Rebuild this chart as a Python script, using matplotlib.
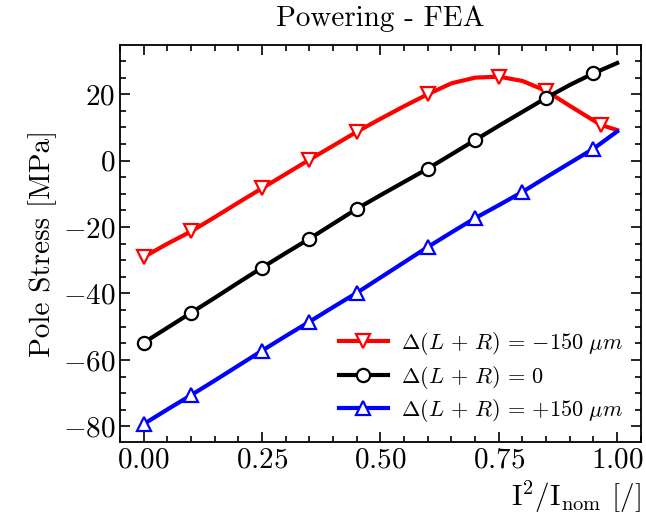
import numpy as np
import matplotlib
matplotlib.use('Agg')
import matplotlib.pyplot as plt
from matplotlib.ticker import MultipleLocator

plt.rcParams['font.family'] = 'serif'
plt.rcParams['font.serif'] = ['cmr10']
plt.rcParams['mathtext.fontset'] = 'cm'
plt.rcParams['axes.formatter.use_mathtext'] = True
plt.rcParams['axes.unicode_minus'] = True

# I^2/I_nom grid
x = [0.0, 0.05, 0.1, 0.15, 0.2, 0.25, 0.3, 0.35, 0.4, 0.45, 0.5,
     0.55, 0.6, 0.65, 0.7, 0.75, 0.8, 0.85, 0.9, 0.95, 1.0]
x_minus = [0.0, 0.05, 0.1, 0.15, 0.2, 0.25, 0.3, 0.35, 0.4, 0.45, 0.5,
           0.55, 0.6, 0.65, 0.7, 0.75, 0.8, 0.85, 0.9, 0.965, 1.0]

# pole stress [MPa]
s_minus = [-29.0, -25.0, -21.3, -17.0, -12.6, -8.3, -4.0, 0.3, 4.5, 8.7, 12.6,
           16.4, 20.0, 23.3, 25.0, 25.3, 24.0, 21.0, 16.5, 10.8, 9.2]
s_zero = [-54.8, -50.3, -45.8, -41.3, -36.7, -32.2, -27.8, -23.5, -19.0, -14.5, -10.4,
          -6.4, -2.4, 1.9, 6.2, 10.5, 14.7, 18.9, 22.8, 26.3, 29.4]
s_plus = [-79.3, -74.9, -70.6, -66.2, -61.7, -57.2, -52.8, -48.5, -44.1, -39.8, -35.2,
          -30.6, -26.0, -21.6, -17.3, -13.4, -9.4, -5.0, -0.7, 3.6, 8.8]

mk_minus = [0, 2, 5, 7, 9, 12, 15, 17, 19]
mk_zero = [0, 2, 5, 7, 9, 12, 14, 17, 19]
mk_plus = [0, 2, 5, 7, 9, 12, 14, 16, 19]

fig = plt.figure(figsize=(6.46, 5.17), dpi=100)
ax = fig.add_axes([0.186, 0.145, 0.806, 0.768])

kw = dict(lw=3.0, ms=9.5, mew=1.6, mfc='white')
ax.plot(x_minus, s_minus, color='red', marker='v', markevery=mk_minus,
        label=r'$\Delta(L\,+\,R)\,=\,{-150}\ \mu m$', **kw)
ax.plot(x, s_zero, color='black', marker='o', markevery=mk_zero,
        label=r'$\Delta(L\,+\,R)\,=\,0$', **kw)
ax.plot(x, s_plus, color='blue', marker='^', markevery=mk_plus,
        label=r'$\Delta(L\,+\,R)\,=\,{+150}\ \mu m$', **kw)

ax.xaxis.set_major_locator(MultipleLocator(0.25))
ax.xaxis.set_minor_locator(MultipleLocator(0.05))
ax.yaxis.set_major_locator(MultipleLocator(20))
ax.yaxis.set_minor_locator(MultipleLocator(5))
ax.xaxis.set_major_formatter(matplotlib.ticker.FormatStrFormatter(r'$%.2f$'))
ax.yaxis.set_major_formatter(matplotlib.ticker.FormatStrFormatter(r'$%d$'))
ax.tick_params(which='both', direction='in', top=True, right=True, labelsize=21, width=1.2)
ax.tick_params(which='major', length=7)
ax.tick_params(which='minor', length=4)
for sp in ax.spines.values():
    sp.set_linewidth(1.3)

ax.set_title('Powering - FEA', fontsize=21, pad=14)
ax.set_ylabel('Pole Stress [MPa]', fontsize=21)
ax.set_xlabel(r'$\mathrm{I^2/I_{nom}}$ [/]', fontsize=21, loc='right')

ax.legend(loc='lower right', frameon=False, fontsize=16, handlelength=2.2,
          handletextpad=0.6, labelspacing=0.3, borderaxespad=0.4)

fig.savefig('out.png', dpi=100)
